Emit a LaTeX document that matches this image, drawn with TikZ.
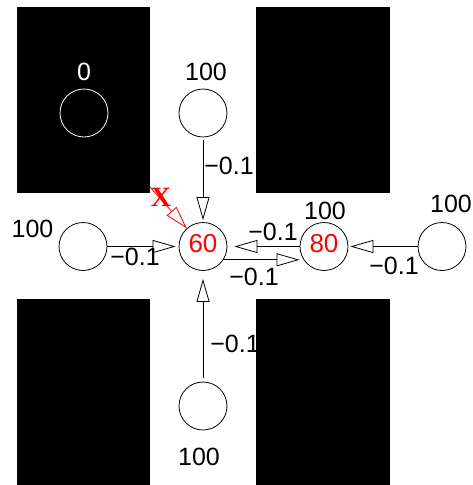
\documentclass[tikz,border=0pt]{standalone}
\usepackage{fontspec}
\setmainfont{Liberation Sans}
\newfontfamily\xfont{Liberation Serif}
\usetikzlibrary{arrows.meta}
\begin{document}
\begin{tikzpicture}[x=1pt,y=-1pt,
  lbl/.style={inner sep=0pt,font=\fontsize{25}{27}\selectfont},
  val/.style={inner sep=0pt,font=\fontsize{26}{28}\selectfont,text=red},
  cell/.style={circle,draw=black,fill=white,line width=0.8pt,minimum size=48pt,inner sep=0pt},
  wall/.style={fill=black,draw=none},
  arr/.style={line width=0.8pt,-{Triangle[open,length=23pt,width=13pt,line width=0.8pt]}}]
\useasboundingbox (0,0) rectangle (473,485);
\fill[white] (0,0) rectangle (473,485);
% label partly hidden by the wall
\node[lbl] (wb) at (235,343.5) {−0.1};
% walls
\fill[wall] (17,7) rectangle (150,193);
\fill[wall] (256,7) rectangle (390,193);
\fill[wall] (17,299) rectangle (150,485);
\fill[wall] (256,299) rectangle (390,485);
% cells
\node[circle,draw=white,line width=0.8pt,minimum size=48pt,inner sep=0pt] (ctl) at (84,113) {};
\node[cell] (ctop) at (203,113) {};
\node[cell] (cl) at (83,246.5) {};
\node[cell] (c60) at (203,246.5) {};
\node[val] at (203,244) {60};
\node[cell] (c80) at (324,246.5) {};
\node[val] at (324,244) {80};
\node[cell] (cr) at (442,246.5) {};
\node[cell] (cbot) at (203,406) {};
% cell labels
\node[lbl,text=white] (l0) at (84,71.5) {0};
\node[lbl] (ltop) at (206,71.5) {100};
\node[lbl] (ll) at (32.5,229) {100};
\node[lbl] (l80) at (325,211) {100};
\node[lbl] (lr) at (451,203.5) {100};
\node[lbl] (lbot) at (199,456.5) {100};
% arrows
\draw[arr,shorten <=3pt,shorten >=2pt] (ctop.south) -- (c60.north);
\draw[arr,shorten >=3pt] (cl.east) -- (c60.west);
\draw[arr,shorten >=7pt] (c80.west) -- (c60.east);
\draw[arr,shorten >=4pt] (c60.-33) -- (c80.213);
\draw[arr,shorten >=2pt] (cr.west) -- (c80.east);
\draw[arr,shorten <=4pt,shorten >=8pt] (cbot.north) -- (c60.south);
\coordinate (xs) at (150,187);
\draw[arr,red] (xs) -- (c60);
\node[inner sep=0pt,text=red,font=\xfont\bfseries\fontsize{28}{30}\selectfont] (xl) at (161,197) {X};
% weights
\node[lbl] (wt) at (229,165.5) {−0.1};
\node[lbl] (wl) at (135,257) {−0.1};
\node[lbl] (wm1) at (273,231.5) {−0.1};
\node[lbl] (wm2) at (254,276.5) {−0.1};
\node[lbl] (wr) at (394,266) {−0.1};
\end{tikzpicture}
\end{document}
